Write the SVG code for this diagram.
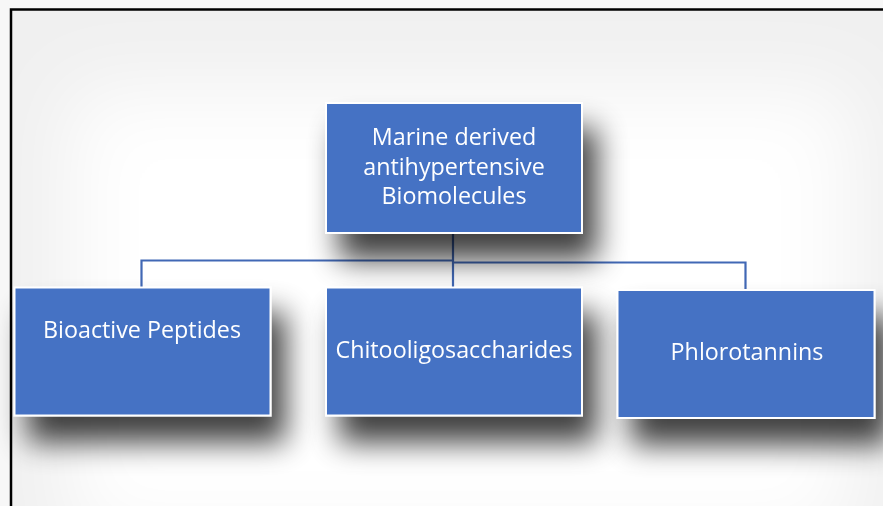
<svg xmlns="http://www.w3.org/2000/svg" width="883" height="506" viewBox="0 0 883 506">
<defs>
<style>
.box{fill:#4472C4;stroke:#ffffff;stroke-width:2}
.lbl{font-family:"Open Sans","Liberation Sans",sans-serif;font-size:23.3px;fill:#ffffff;text-anchor:middle}
.con{fill:none;stroke:#4168B5;stroke-width:2.2}
</style>
<filter id="sh" x="-30%" y="-30%" width="170%" height="200%">
<feGaussianBlur in="SourceAlpha" stdDeviation="15"/>
<feOffset dx="14" dy="26" result="b"/>
<feComponentTransfer><feFuncA type="linear" slope="0.75"/></feComponentTransfer>
<feMerge><feMergeNode/><feMergeNode in="SourceGraphic"/></feMerge>
</filter>
<filter id="bg" x="-20%" y="-20%" width="140%" height="140%">
<feGaussianBlur stdDeviation="40"/>
</filter>
</defs>
<rect x="0" y="0" width="883" height="506" fill="#f7f7f7"/>
<rect x="11" y="9.5" width="890" height="520" fill="#f0f0f0"/>
<rect x="70" y="90" width="780" height="450" fill="#ffffff" filter="url(#bg)"/>
<path d="M11 506 V9.5 H883" fill="none" stroke="#000000" stroke-width="2.5"/>
<g id="connectors">
<path class="con" d="M453 233 V287"/>
<path class="con" d="M141.5 287 V260.5 H453"/>
<path class="con" d="M453 262.5 H745.5 V290"/>
</g>
<g id="root" filter="url(#sh)">
<rect class="box" x="326" y="103" width="256" height="130"/>
<text class="lbl" x="454" y="145">Marine derived</text>
<text class="lbl" x="454" y="175">antihypertensive</text>
<text class="lbl" x="454" y="204">Biomolecules</text>
</g>
<g id="peptides" filter="url(#sh)">
<rect class="box" x="14.5" y="287.5" width="256" height="128"/>
<text class="lbl" x="142" y="338">Bioactive Peptides</text>
</g>
<g id="chito" filter="url(#sh)">
<rect class="box" x="326" y="287.5" width="256" height="128"/>
<text class="lbl" x="454" y="358">Chitooligosaccharides</text>
</g>
<g id="phloro" filter="url(#sh)">
<rect class="box" x="617.5" y="290" width="257" height="128"/>
<text class="lbl" x="747" y="360">Phlorotannins</text>
</g>
</svg>
